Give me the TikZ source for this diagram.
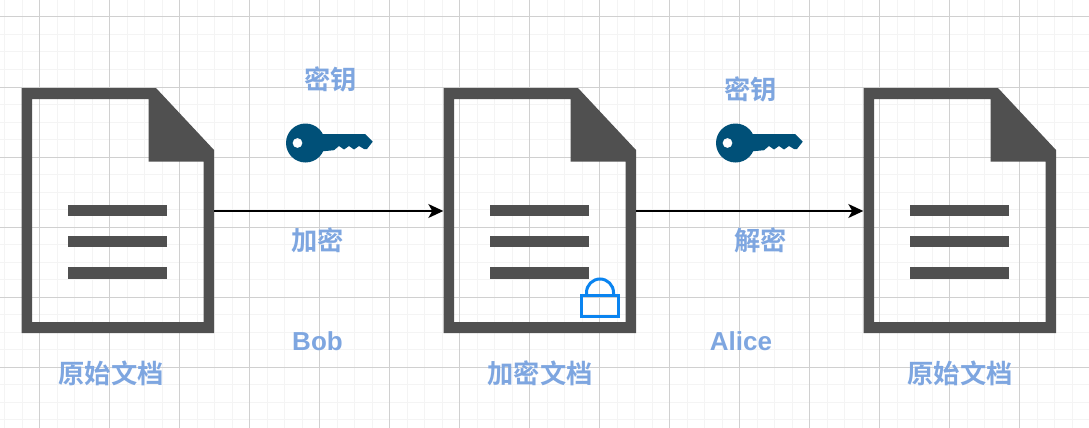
\documentclass[tikz,border=0pt]{standalone}
\usepackage{fontspec}
\usetikzlibrary{arrows.meta}
\setmainfont{Liberation Sans}
\newfontfamily\cjkbold[BoldFont={Noto Sans CJK SC Bold}]{Noto Sans CJK SC}
\definecolor{gridminor}{HTML}{F4F4F4}
\definecolor{gridmajor}{HTML}{D0D0D0}
\definecolor{docgray}{HTML}{505050}
\definecolor{labelblue}{HTML}{7EA6E0}
\definecolor{keyblue}{HTML}{005078}
\definecolor{lockblue}{HTML}{0A84F0}
\tikzset{
  cjklabel/.style={text=labelblue,inner sep=0pt,font=\fontsize{26.3}{26}\selectfont\cjkbold\bfseries},
  namelabel/.style={text=labelblue,inner sep=0pt,font=\fontsize{26}{26}\selectfont\bfseries},
  flow/.style={draw=black,line width=1.4pt,-{Stealth[length=15pt,width=14pt,inset=4pt]}},
  docicon/.pic={
    \node[minimum width=192.5pt,minimum height=245pt,inner sep=0pt] (box) {};
    \fill[docgray,even odd rule]
      (-96.25,-122.5) -- (38.25,-122.5) -- (96.25,-60.5) -- (96.25,122.5) -- (-96.25,122.5) -- cycle
      (-85.75,-111.5) -- (30.75,-111.5) -- (30.75,-49) -- (85.75,-49) -- (85.75,111.5) -- (-85.75,111.5) -- cycle;
    \foreach \y in {-0.2,31.2,62.3}
      \fill[docgray] (-49.5,\y-5.7) rectangle (49.25,\y+5.7);
  },
  keyicon/.pic={
    \fill[keyblue,even odd rule] (0,0) circle (19.5) (-8,0) circle (5);
    \fill[keyblue] (15,-9) -- (59.5,-9) -- (67.2,-1.3) -- (61.5,6) -- (58.5,6) -- (53.5,3) -- (48.5,6.5) -- (43.5,3) -- (38.5,6.5)
      -- (33.5,3) -- (28.5,7.2) -- (15,8.5) -- cycle;
  },
  lockicon/.pic={
    \draw[lockblue,line width=3pt] (-18.5,-9.5) rectangle (18.5,11);
    \draw[lockblue,line width=3pt] (-13.5,-9.5) -- (-13.5,-12.5) arc[start angle=180,end angle=360,radius=13.5] -- (13.5,-9.5);
  }
}
\begin{document}
\begin{tikzpicture}[x=1pt,y=-1pt]
  \useasboundingbox (0,0) rectangle (1089,428);
  \fill[white] (0,0) rectangle (1089,428);
  \foreach \x in {0,...,62}
    \draw[gridminor,line width=1pt] (4.5+17.5*\x,0) -- (4.5+17.5*\x,428);
  \foreach \y in {0,...,24}
    \draw[gridminor,line width=1pt] (0,-0.5+17.5*\y) -- (1089,-0.5+17.5*\y);
  \foreach \x in {0,...,15}
    \draw[gridmajor,line width=1pt] (39.5+70*\x,0) -- (39.5+70*\x,428);
  \foreach \y in {0,...,5}
    \draw[gridmajor,line width=1pt] (0,17+70*\y) -- (1089,17+70*\y);

  \pic (plain) at (117.75,210.5) {docicon};
  \pic (cipher) at (539.75,210.5) {docicon};
  \pic (restored) at (959.75,210.5) {docicon};
  \pic (lock) at (600,305) {lockicon};
  \pic (bobkey) at (305.5,143) {keyicon};
  \pic (alicekey) at (735.5,143) {keyicon};

  \draw[flow] (plainbox.east |- 0,211) -- (cipherbox.west |- 0,211);
  \draw[flow] (cipherbox.east |- 0,211) -- (restoredbox.west |- 0,211);

  \node[cjklabel] (bobkeytext) at (330.5,79) {密钥};
  \node[cjklabel] (alicekeytext) at (750.5,89) {密钥};
  \node[cjklabel] (encrypt) at (317.5,240) {加密};
  \node[cjklabel] (decrypt) at (760.5,240) {解密};
  \node[namelabel] (bob) at (317.5,341) {Bob};
  \node[namelabel] (alice) at (741,341) {Alice};
  \node[cjklabel] (plaintext) at (111,373) {原始文档};
  \node[cjklabel] (ciphertext) at (540,373) {加密文档};
  \node[cjklabel] (restoredtext) at (960,373) {原始文档};
\end{tikzpicture}
\end{document}
